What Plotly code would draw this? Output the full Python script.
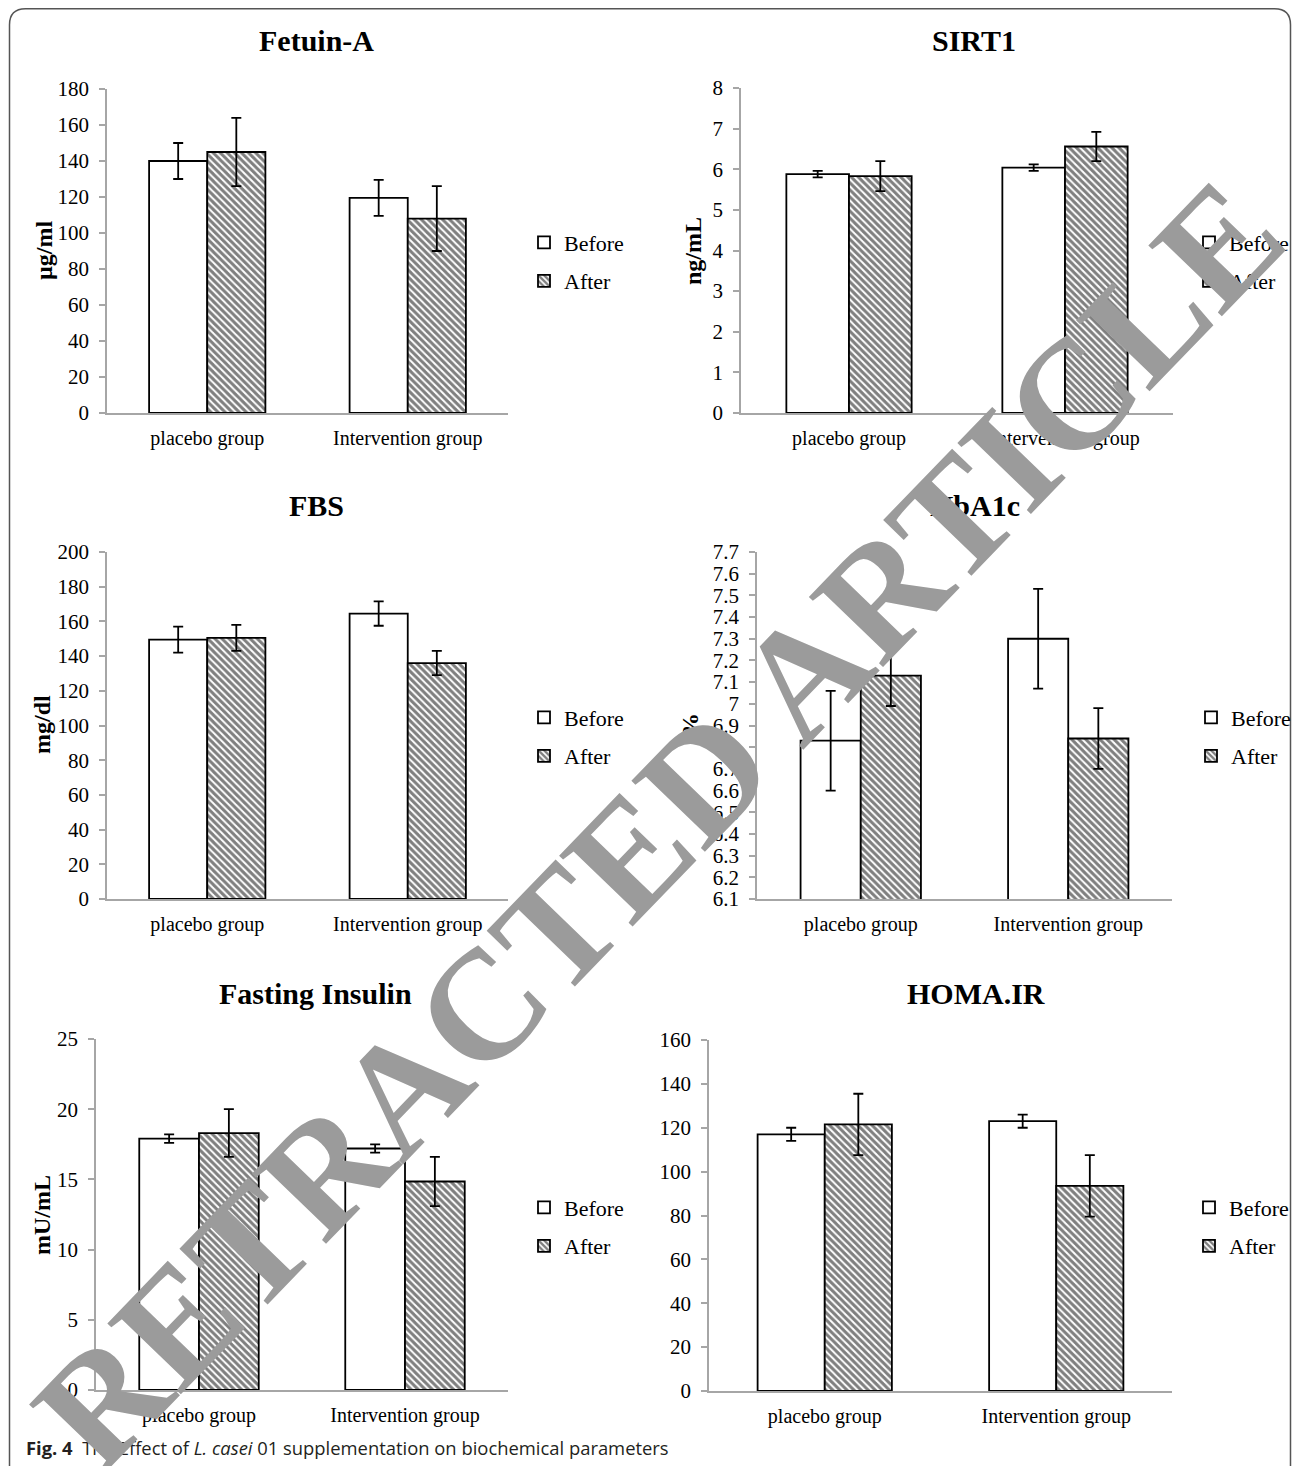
import plotly.graph_objects as go

W, H = 1295, 1466

categories = ["placebo group", "Intervention group"]
series_names = ["Before", "After"]
titles = ["Fetuin-A", "SIRT1", "FBS", "HbA1c", "Fasting Insulin", "HOMA.IR"]
y_titles = ["µg/ml", "ng/mL", "mg/dl", "%", "mU/mL", ""]

fetuin_before = [140, 119.5]
fetuin_before_err = [10, 10]
fetuin_after = [145, 108]
fetuin_after_err = [19, 18]

sirt1_before = [5.88, 6.04]
sirt1_before_err = [0.08, 0.08]
sirt1_after = [5.83, 6.56]
sirt1_after_err = [0.37, 0.36]

fbs_before = [149.5, 164.5]
fbs_before_err = [7.5, 7]
fbs_after = [150.5, 136]
fbs_after_err = [7.5, 7]

hba1c_before = [6.83, 7.30]
hba1c_before_err = [0.23, 0.23]
hba1c_after = [7.13, 6.84]
hba1c_after_err = [0.14, 0.14]

insulin_before = [17.9, 17.2]
insulin_before_err = [0.3, 0.3]
insulin_after = [18.3, 14.85]
insulin_after_err = [1.7, 1.75]

homa_before = [117, 123]
homa_before_err = [3, 3]
homa_after = [121.5, 93.5]
homa_after_err = [14, 14]

y_ranges = [[0, 180], [0, 8], [0, 200], [6.1, 7.7], [0, 25], [0, 160]]
y_dticks = [20, 1, 20, 0.1, 5, 20]

panels = [
    (fetuin_before, fetuin_before_err, fetuin_after, fetuin_after_err),
    (sirt1_before, sirt1_before_err, sirt1_after, sirt1_after_err),
    (fbs_before, fbs_before_err, fbs_after, fbs_after_err),
    (hba1c_before, hba1c_before_err, hba1c_after, hba1c_after_err),
    (insulin_before, insulin_before_err, insulin_after, insulin_after_err),
    (homa_before, homa_before_err, homa_after, homa_after_err),
]

# page-pixel -> paper helpers
def fx(px):
    return px / W

def fy(py):
    return 1 - py / H

doms = [(107, 508, 89, 413), (741, 1173, 88, 413), (107, 508, 552, 899),
        (757, 1172, 552, 899), (96, 508, 1039, 1390), (709, 1172, 1040, 1391)]
title_pos = [(316, 40), (974, 40), (316, 505), (975, 505), (315, 993), (976, 993)]
ytitle_pos = [(44, 251), (693, 251), (42, 725), (690, 725), (42, 1215), None]
legend_pos = [(524, 262), (1189, 262), (524, 737), (1191, 737), (524, 1227), (1189, 1227)]

SERIF = "Liberation Serif"
AXIS_GRAY = "#a6a6a6"

fig = go.Figure()
layout = dict(
    width=W, height=H,
    margin=dict(l=0, r=0, t=0, b=0, autoexpand=False),
    paper_bgcolor="white", plot_bgcolor="rgba(0,0,0,0)",
    barmode="group", bargap=0.42, bargroupgap=0,
    showlegend=True,
    font=dict(family=SERIF, size=20, color="black"),
)
annotations = []

for i, (b, be, a, ae) in enumerate(panels):
    n = "" if i == 0 else str(i + 1)
    xa, ya = "x" + n, "y" + n
    lg = "legend" + n
    err_style = dict(type="data", visible=True, color="black", thickness=1.8, width=5)
    fig.add_trace(go.Bar(
        x=categories, y=b, name=series_names[0], xaxis=xa, yaxis=ya,
        legend=lg, legendgroup="b" + n,
        marker=dict(color="white", line=dict(color="black", width=1.8)),
        error_y=dict(array=be, **err_style),
    ))
    fig.add_trace(go.Bar(
        x=categories, y=a, name=series_names[1], xaxis=xa, yaxis=ya,
        legend=lg, legendgroup="a" + n,
        marker=dict(color="white", line=dict(color="black", width=1.8),
                    pattern=dict(shape="\\", fgcolor="black", bgcolor="white",
                                 size=5, solidity=0.6)),
        error_y=dict(array=ae, **err_style),
    ))
    x0, x1, y0, y1 = doms[i]
    layout["xaxis" + n] = dict(
        domain=[fx(x0), fx(x1)], anchor=ya, showline=True, linecolor=AXIS_GRAY,
        linewidth=1.5, ticks="", showgrid=False, zeroline=False, automargin=False,
        tickfont=dict(family=SERIF, size=20, color="black"), ticklabelstandoff=6,
        fixedrange=True,
    )
    layout["yaxis" + n] = dict(
        domain=[fy(y1), fy(y0)], anchor=xa, range=y_ranges[i], dtick=y_dticks[i],
        tick0=y_ranges[i][0], automargin=False,
        showline=True, linecolor=AXIS_GRAY, linewidth=1.5, ticks="outside",
        ticklen=6, tickcolor=AXIS_GRAY, tickwidth=1.5, showgrid=False,
        zeroline=False, tickfont=dict(family=SERIF, size=21, color="black"),
        ticklabelstandoff=6, fixedrange=True,
    )
    lx, ly = legend_pos[i]
    layout[lg] = dict(
        x=fx(lx), y=fy(ly), xref="container", yref="container",
        xanchor="left", yanchor="middle",
        font=dict(family=SERIF, size=22, color="black"),
        bgcolor="rgba(0,0,0,0)", traceorder="grouped", tracegroupgap=7,
    )
    tx, ty = title_pos[i]
    annotations.append(dict(
        text="<b>%s</b>" % titles[i], x=tx, y=ty, xref="x7", yref="y7",
        showarrow=False, font=dict(family=SERIF, size=30, color="black"),
        xanchor="center", yanchor="middle",
    ))
    if ytitle_pos[i] is not None and y_titles[i]:
        px_, py_ = ytitle_pos[i]
        annotations.append(dict(
            text="<b>%s</b>" % y_titles[i], x=px_, y=py_, xref="x7", yref="y7",
            showarrow=False, textangle=-90,
            font=dict(family=SERIF, size=24, color="black"),
            xanchor="center", yanchor="middle",
        ))

# full-page overlay axes in pixel units, used only to place page-level text/shapes
fig.add_trace(go.Scatter(x=[], y=[], xaxis="x7", yaxis="y7", showlegend=False,
                         hoverinfo="skip"))
layout["xaxis7"] = dict(domain=[0, 1], range=[0, W], visible=False, anchor="y7",
                        fixedrange=True, automargin=False)
layout["yaxis7"] = dict(domain=[0, 1], range=[H, 0], visible=False, anchor="x7",
                        fixedrange=True, automargin=False)

# caption
annotations.append(dict(
    text="<b>Fig. 4</b>  The Effect of <i>L. casei</i> 01 supplementation on biochemical parameters",
    x=24, y=1447, xref="x7", yref="y7", showarrow=False,
    xanchor="left", yanchor="middle",
    font=dict(family="Open Sans", size=18.4, color="#231f20"),
))
# watermark
annotations.append(dict(
    text="<b>RETRACTED ARTICLE</b>", x=658, y=824, xref="x7", yref="y7",
    showarrow=False, textangle=-46, xanchor="center", yanchor="middle",
    font=dict(family=SERIF, size=156, color="#9b9b9b"),
))
layout["annotations"] = annotations

# rounded frame (pixel units on the overlay axes)
rr = 16
L, R, T, B = 9.5, 1290.5, 8.8, 1490
path = (f"M {L},{B} L {L},{T + rr} Q {L},{T} {L + rr},{T} "
        f"L {R - rr},{T} Q {R},{T} {R},{T + rr} L {R},{B}")
layout["shapes"] = [dict(type="path", xref="x7", yref="y7", path=path,
                         line=dict(color="#555555", width=1.5), layer="below")]

fig.update_layout(**layout)

no_margin_js = (
    "document.documentElement.style.margin='0';"
    "document.documentElement.style.padding='0';"
    "document.body.style.margin='0';"
    "document.body.style.padding='0';"
    "document.documentElement.style.overflow='hidden';"
    "document.body.style.overflow='hidden';"
)
fig.write_html("out.html", post_script=no_margin_js,
               config={"displayModeBar": False, "responsive": False})
